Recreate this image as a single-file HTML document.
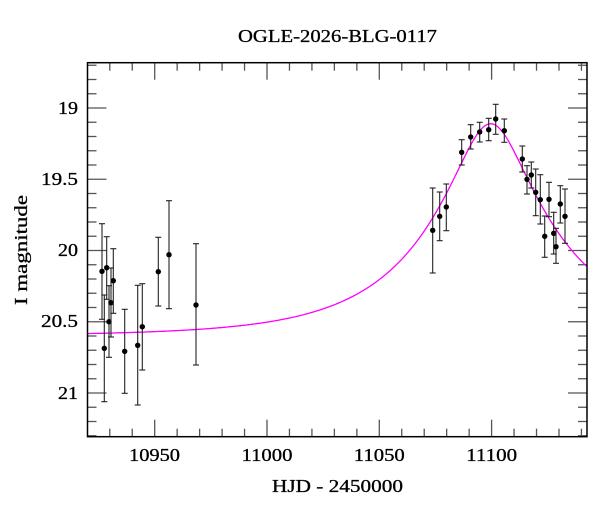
<!DOCTYPE html>
<html><head><meta charset="utf-8"><style>
html,body{margin:0;padding:0;background:#fff;}
svg{display:block;font-family:"Liberation Serif",serif;}
</style></head><body>
<svg id="s" width="600" height="512" viewBox="0 0 600 512" xmlns="http://www.w3.org/2000/svg">
<g font-size="18" stroke="#000" stroke-width="0.3" lengthAdjust="spacingAndGlyphs">
<text x="238" y="42" textLength="199" lengthAdjust="spacingAndGlyphs">OGLE-2026-BLG-0117</text>
<text x="272" y="492" textLength="131" lengthAdjust="spacingAndGlyphs">HJD - 2450000</text>
<text transform="translate(27,305) rotate(-90)" textLength="110" lengthAdjust="spacingAndGlyphs">I magnitude</text>
</g>
<g id="ticks" stroke="#555" stroke-width="1.3"></g>
<path id="curve" fill="none" stroke="#ff00ff" stroke-width="1.3"/>
<g id="pts"></g>
<rect x="87.5" y="62.7" width="499.5" height="374" fill="none" stroke="#000" stroke-width="1.5"/>
<g font-size="18" stroke="#000" stroke-width="0.3">
<text x="129" y="461" textLength="51" lengthAdjust="spacingAndGlyphs">10950</text>
<text x="241.5" y="461" textLength="51" lengthAdjust="spacingAndGlyphs">11000</text>
<text x="353.8" y="461" textLength="51" lengthAdjust="spacingAndGlyphs">11050</text>
<text x="466.2" y="461" textLength="51" lengthAdjust="spacingAndGlyphs">11100</text>
</g>
<g font-size="18" stroke="#000" stroke-width="0.3">
<text x="58" y="114" textLength="20" lengthAdjust="spacingAndGlyphs">19</text>
<text x="41" y="185" textLength="37" lengthAdjust="spacingAndGlyphs">19.5</text>
<text x="58" y="256" textLength="20" lengthAdjust="spacingAndGlyphs">20</text>
<text x="41" y="327" textLength="37" lengthAdjust="spacingAndGlyphs">20.5</text>
<text x="58" y="399" textLength="20" lengthAdjust="spacingAndGlyphs">21</text>
</g>
</svg>
<script>
function X(t){return 154.7+(t-10950)*2.246;}
function Y(m){return 108+(m-19)*142.5;}
var L=87.5,R=587,T=62.7,B=436.7,g=document.getElementById('ticks'),s="";
function ln(x1,y1,x2,y2){s+='<line x1="'+x1+'" y1="'+y1+'" x2="'+x2+'" y2="'+y2+'"/>';}
for(var t=10930;t<=11140;t+=10){var x=X(t),len=(t%50==0)?17:8;ln(x,B,x,B-len);ln(x,T,x,T+len);}
for(var k=187;k<=213;k++){var m=k/10,y=Y(m),len=(k%5==0)?19:9;ln(L,y,L+len,y);ln(R,y,R-len,y);}
g.innerHTML=s;
var d="";
for(var px=L;px<=R;px+=1){var tt=(px-154.7)/2.246+10950,u0=0.26,tE=58.8,t0=11099.6;
var dt=(tt-t0)/tE,u=Math.sqrt(u0*u0+dt*dt),A=(u*u+2)/(u*Math.sqrt(u*u+4));
var mm=20.6-2.5*Math.log10(A);d+=(d?"L":"M")+px.toFixed(1)+","+Y(mm).toFixed(1);}
document.getElementById('curve').setAttribute('d',d);
var P=[[102,271.3,223.7,319.3],[104.3,348.3,295,401.7],[106.7,267.7,236.7,299.3],[109,321.7,285.7,357.3],[111,302.7,268,337],[113.3,280.7,248.7,313.3],[124.7,351.3,309.3,393.3],[137.7,345.3,285.3,405],[142.3,326.7,283.7,370],[158.3,271.7,237.3,306],[169,254.7,200.7,308.7],[196,305,243.7,365],
[432.7,230.3,188,273],[439.7,216.3,192,240.7],[446.3,207,184,230.7],[461.7,152.3,139.7,165],[470.7,137,124.7,149],[479.7,132,122.3,142],[488.7,129.7,118.3,140.7],[495.7,119,104.3,134.3],[504.3,130.7,119,142.3],[522.3,159,146,172],[527,179.3,165.7,194],[531.3,175,162,188],[535.7,192.3,169,215.7],[540.3,199.7,174.7,224],[544.7,236.3,216,257.3],[549,199.3,182.3,216.7],[553.7,233.3,212.3,254],[556,246.7,228.3,263.3],[560.3,204,185.7,223],[565,216.3,189,243.3]];
var h="";
P.forEach(function(p){var x=p[0];h+='<g stroke="#222" stroke-width="1.1"><line x1="'+x+'" y1="'+p[2]+'" x2="'+x+'" y2="'+p[3]+'"/><line x1="'+(x-3)+'" y1="'+p[2]+'" x2="'+(x+3)+'" y2="'+p[2]+'"/><line x1="'+(x-3)+'" y1="'+p[3]+'" x2="'+(x+3)+'" y2="'+p[3]+'"/></g><circle cx="'+x+'" cy="'+p[1]+'" r="2.7" fill="#000"/>';});
document.getElementById('pts').innerHTML=h;
</script>
</body></html>
